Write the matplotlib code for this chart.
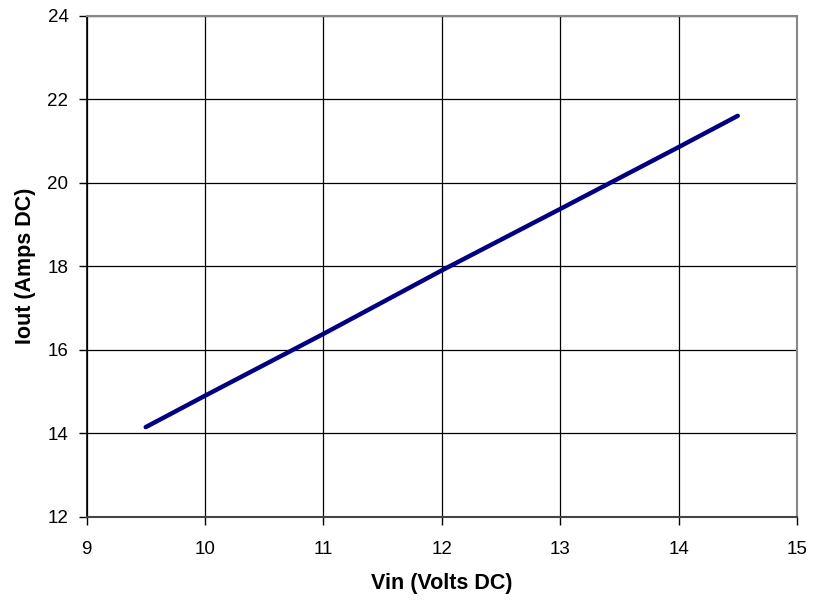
import matplotlib
matplotlib.use("Agg")
import matplotlib.pyplot as plt

plt.rcParams['font.family'] = ['Liberation Sans', 'DejaVu Sans']

vin = [9.5, 10, 11, 12, 13, 14, 14.5]
iout = [14.15, 14.9, 16.38, 17.9, 19.37, 20.85, 21.6]

fig = plt.figure(figsize=(8.13, 6.01), dpi=100)
ax = fig.add_axes([0.1064, 0.1398, 0.8739, 0.8344])

ax.plot(vin, iout, color='#000080', linewidth=3.2, solid_capstyle='round')

ax.set_xlim(9, 15)
ax.set_ylim(12, 24)
ax.set_xticks(range(9, 16))
ax.set_yticks(range(12, 25, 2))
ax.grid(True, color='black', linewidth=0.9)
ax.set_axisbelow(True)

for side in ['top', 'right']:
    ax.spines[side].set_color('#888888')
    ax.spines[side].set_linewidth(1.5)
ax.spines['bottom'].set_color('#444444')
ax.spines['bottom'].set_linewidth(1.5)
ax.spines['left'].set_color('black')
ax.spines['left'].set_linewidth(1.2)

ax.tick_params(direction='out', length=6, width=1, labelsize=13.5, pad=7)
ax.tick_params(axis='x', pad=11)

ax.set_xlabel('Vin (Volts DC)', fontsize=15.5, fontweight='bold', labelpad=11)
ax.set_ylabel('Iout (Amps DC)', fontsize=15.5, fontweight='bold', labelpad=8)

fig.savefig('out.png', dpi=100)
